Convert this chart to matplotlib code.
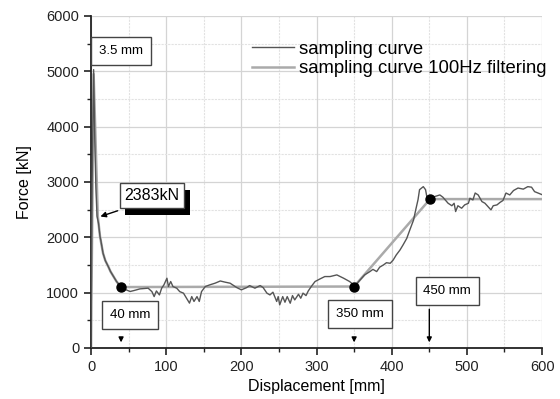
import matplotlib
matplotlib.use('Agg')
import matplotlib.pyplot as plt
import matplotlib.ticker as mticker
import matplotlib.patheffects as pe

plt.rcParams['font.family'] = ['Liberation Sans', 'DejaVu Sans']

# --- measured force curve (displacement mm, force kN) ---
disp_raw = [0, 1.5, 3.5, 5, 6.5, 8, 10, 12, 13, 16, 19, 23, 26, 30, 34, 40,
            45, 52, 58, 65, 76, 81, 84, 87, 91, 94, 97, 101, 103, 106, 109,
            114, 118, 123, 127, 131, 134, 137, 141, 144, 147, 152, 158, 165,
            172, 178, 185, 194, 200, 207, 211, 218, 225, 229, 234, 238, 242,
            247, 249, 251, 255, 258, 261, 265, 268, 271, 276, 279, 282, 286,
            289, 293, 298, 305, 311, 318, 327, 336, 344, 351, 358, 364, 371,
            375, 380, 384, 389, 393, 398, 402, 406, 411, 415, 420, 424, 429,
            432, 435, 437, 442, 445, 447, 451, 457, 464, 468, 475, 480, 483,
            485, 488, 493, 497, 502, 504, 508, 511, 515, 520, 524, 528, 532,
            535, 540, 544, 548, 552, 557, 562, 568, 575, 581, 586, 590, 597,
            600]
force_raw = [0, 3000, 5030, 3800, 2900, 2383, 2250, 2013, 1950, 1712, 1580,
             1470, 1380, 1290, 1200, 1100, 1060, 1020, 1040, 1067, 1080, 1018,
             928, 1030, 958, 1080, 1140, 1260, 1110, 1200, 1110, 1080, 1018,
             990, 900, 810, 928, 840, 928, 840, 1018, 1110, 1140, 1170, 1210,
             1190, 1170, 1090, 1050, 1090, 1127, 1080, 1127, 1090, 990, 958,
             1007, 840, 928, 778, 928, 826, 928, 808, 946, 868, 970, 898, 990,
             946, 1030, 1110, 1200, 1250, 1290, 1290, 1320, 1260, 1200, 1120,
             1230, 1320, 1380, 1420, 1380, 1460, 1500, 1540, 1530, 1590, 1680,
             1770, 1860, 1980, 2130, 2310, 2500, 2680, 2860, 2915, 2860, 2710,
             2690, 2735, 2765, 2725, 2615, 2570, 2615, 2465, 2570, 2525, 2585,
             2615, 2705, 2675, 2800, 2765, 2645, 2615, 2555, 2495, 2570, 2585,
             2630, 2665, 2800, 2765, 2845, 2890, 2870, 2915, 2905, 2825, 2785,
             2770]

# --- 100 Hz filtered curve ---
disp_filt = [0, 3.5, 9, 12, 16, 19, 23, 26, 30, 34, 40, 350, 451, 600]
force_filt = [0, 4950, 2383, 2013, 1712, 1580, 1470, 1380, 1290, 1200, 1100,
              1110, 2690, 2690]

# characteristic points
key_disp = [40, 350, 451]
key_force = [1100, 1110, 2690]

fig = plt.figure(figsize=(5.6, 3.99), dpi=100)
ax = fig.add_axes([0.1625, 0.128, 0.8055, 0.832])

ax.plot(disp_raw, force_raw, color='#555555', lw=1.0, label='sampling curve', zorder=3)
ax.plot(disp_filt, force_filt, color='#aaaaaa', lw=1.8,
        label='sampling curve 100Hz filtering', zorder=2)
ax.plot(key_disp, key_force, 'o', color='black', ms=6.5, zorder=4)

ax.set_xlim(0, 600)
ax.set_ylim(0, 6000)
ax.xaxis.set_major_locator(mticker.MultipleLocator(100))
ax.xaxis.set_minor_locator(mticker.MultipleLocator(50))
ax.yaxis.set_major_locator(mticker.MultipleLocator(1000))
ax.yaxis.set_minor_locator(mticker.MultipleLocator(500))
ax.grid(which='major', color='#d4d4d4', lw=0.9)
ax.grid(which='minor', color='#e2e2e2', lw=0.8, ls=(0, (2, 1)))
ax.set_axisbelow(True)

for s in ['top', 'right']:
    ax.spines[s].set_visible(False)
for s in ['left', 'bottom']:
    ax.spines[s].set_linewidth(1.3)
    ax.spines[s].set_color('#222222')
ax.tick_params(which='major', direction='out', length=5, width=1.2,
               labelsize=10.5, colors='#222222')
ax.tick_params(which='minor', direction='out', length=3, width=1.0, colors='#222222')

ax.set_xlabel('Displacement [mm]', fontsize=11.5, labelpad=4)
ax.set_ylabel('Force [kN]', fontsize=11.5, labelpad=10)

ax.legend(loc='upper left', bbox_to_anchor=(0.357, 0.925), frameon=False,
          fontsize=13.3, handlelength=2.25, handletextpad=0.3,
          labelspacing=0.12, borderpad=0, borderaxespad=0)

box = dict(boxstyle='square,pad=0.6', fc='white', ec='#444444', lw=1.0)
ax.text(40, 5370, '3.5 mm', fontsize=9.5, ha='center', va='center', bbox=box)
ax.text(52, 588, '40 mm', fontsize=9.5, ha='center', va='center', bbox=box)
ax.text(358, 615, '350 mm', fontsize=9.5, ha='center', va='center', bbox=box)
ax.text(474, 1022, '450 mm', fontsize=9.5, ha='center', va='center', bbox=box)

# peak label, box with a solid drop shadow
peak = ax.text(81, 2752, '2383kN', fontsize=11.5, ha='center', va='center',
               bbox=dict(boxstyle='square,pad=0.3', fc='white', ec='#444444', lw=1.0),
               zorder=6)
peak.get_bbox_patch().set_path_effects([
    pe.SimplePatchShadow(offset=(4, -5), shadow_rgbFace='black', alpha=1.0),
    pe.Normal()])
ax.annotate('', xy=(9, 2360), xytext=(39, 2495),
            arrowprops=dict(arrowstyle='-|>', color='black', lw=1.0,
                            mutation_scale=8), zorder=6)

# displacement markers
arrow = dict(arrowstyle='-|>', color='black', lw=1.0, mutation_scale=7)
ax.annotate('', xy=(40, 50), xytext=(40, 220), arrowprops=arrow)
ax.annotate('', xy=(350, 50), xytext=(350, 220), arrowprops=arrow)
ax.annotate('', xy=(450, 50), xytext=(450, 750), arrowprops=arrow)

fig.savefig('out.png', dpi=100, facecolor='white')
